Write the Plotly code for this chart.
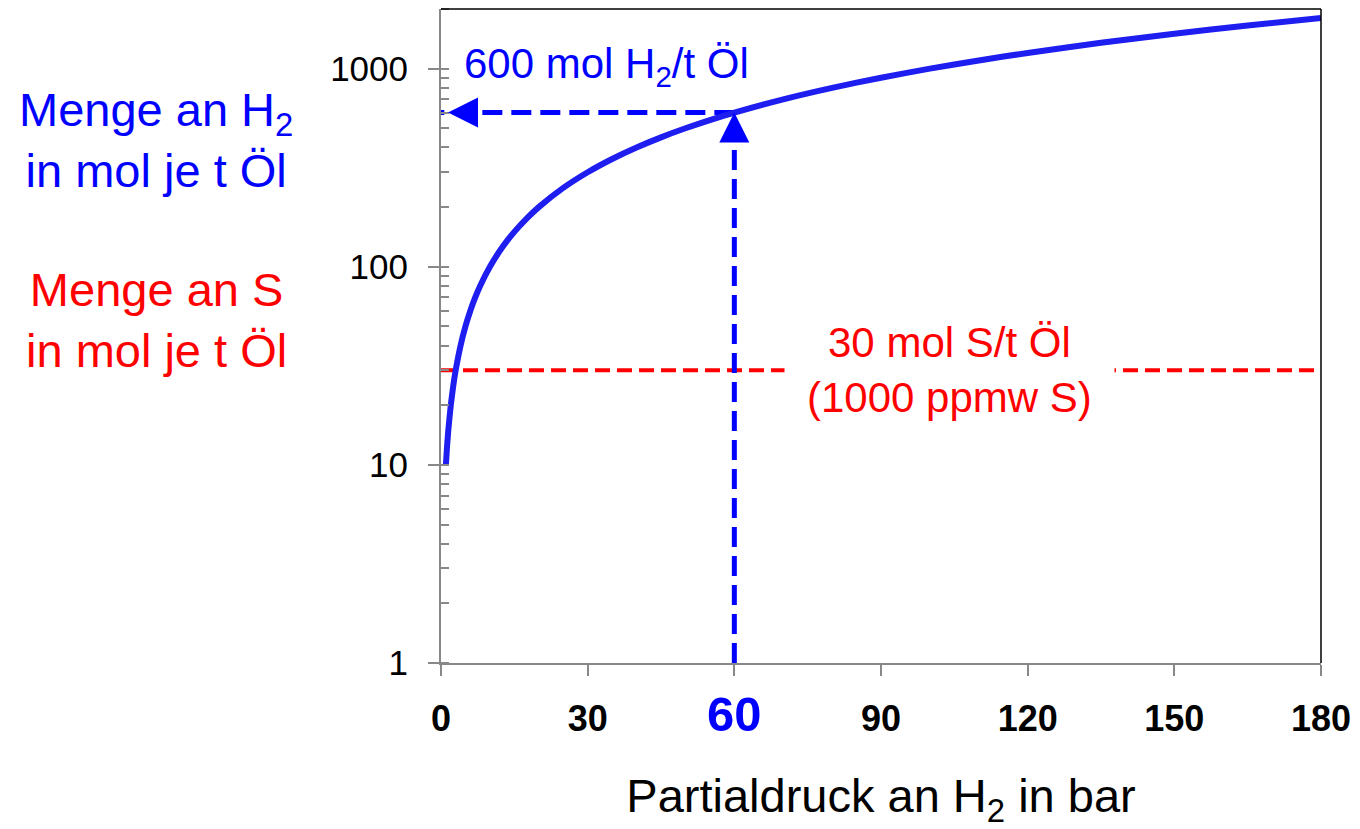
import math
import plotly.graph_objects as go

# H2 partial pressure (bar) and dissolved H2 (mol per t oil)
pressure_bar = [1, 1.25, 1.5, 2, 2.5, 3, 4, 5, 6, 7, 8, 10, 12.5, 15, 17.5, 20,
                25, 30, 35, 40, 45, 50, 55, 60, 70, 80, 90, 100, 110, 120, 135,
                150, 165, 180]
h2_mol_per_t = [10, 12.5, 15, 20, 25, 30, 40, 50, 60, 70, 80, 100, 125, 150,
                175, 200, 250, 300, 350, 400, 450, 500, 550, 600, 700, 800, 900,
                1000, 1100, 1200, 1350, 1500, 1650, 1800]

# Reference levels
s_level = 30          # mol S per t oil (1000 ppmw S)
p_marked = 60         # bar
h2_marked = 600       # mol H2 per t oil

x_ticks = [0, 30, 60, 90, 120, 150, 180]
y_ticks = [1, 10, 100, 1000]

BLUE = "#0000ff"
CURVE_BLUE = "#1e1ef0"
RED = "#ff0000"
GREY = "#888888"
FONT = "Liberation Sans, Arial, sans-serif"

fig = go.Figure()

# sulfur level, dashed red
fig.add_trace(go.Scatter(
    x=[x_ticks[0], x_ticks[-1]], y=[s_level, s_level], mode="lines",
    line=dict(color=RED, width=4, dash="15px,7px"), hoverinfo="skip"))

# guide lines for the marked operating point
fig.add_trace(go.Scatter(
    x=[p_marked, p_marked], y=[y_ticks[0], h2_marked], mode="lines",
    line=dict(color=BLUE, width=5, dash="20px,9px"), hoverinfo="skip"))
fig.add_trace(go.Scatter(
    x=[p_marked, x_ticks[0]], y=[h2_marked, h2_marked], mode="lines",
    line=dict(color=BLUE, width=5, dash="20px,9px"), hoverinfo="skip"))

# H2 solubility curve
fig.add_trace(go.Scatter(
    x=pressure_bar, y=h2_mol_per_t, mode="lines",
    line=dict(color=CURVE_BLUE, width=6, shape="spline", smoothing=0.6),
    hoverinfo="skip"))

tick_text = []
for v in x_ticks:
    if v == p_marked:
        tick_text.append(f"<span style='color:{BLUE};font-size:49px'><b>{v}</b></span>")
    else:
        tick_text.append(f"<b>{v}</b>")

fig.update_xaxes(
    range=[x_ticks[0], x_ticks[-1]], tickvals=x_ticks, ticktext=tick_text,
    ticks="outside", ticklen=11, tickwidth=2, tickcolor=GREY,
    showline=True, linecolor=GREY, linewidth=2, showgrid=False, zeroline=False,
    tickfont=dict(family=FONT, size=36, color="black"), ticklabelstandoff=12,
    title=dict(text="Partialdruck an H<sub>2</sub> in bar",
               font=dict(family=FONT, size=47, color="black"), standoff=42),
)
fig.update_yaxes(
    type="log", range=[0, math.log10(2000)], tickvals=y_ticks,
    ticktext=[str(v) for v in y_ticks],
    ticks="outside", ticklen=11, tickwidth=2, tickcolor=GREY,
    minor=dict(ticks="inside", ticklen=8, tickwidth=2, tickcolor=GREY,
               dtick="D1", showgrid=False),
    showline=True, linecolor=GREY, linewidth=2, showgrid=False, zeroline=False,
    tickfont=dict(family=FONT, size=35, color="black"), ticklabelstandoff=13,
)

annotations = [
    # arrow heads
    dict(x=p_marked, y=math.log10(h2_marked), xref="x", yref="y", ax=0, ay=31,
         showarrow=True, arrowhead=2, arrowsize=1.5, arrowwidth=4,
         arrowcolor=BLUE, text=""),
    dict(x=x_ticks[0], y=math.log10(h2_marked), xref="x", yref="y", ax=31, ay=0,
         standoff=7, showarrow=True, arrowhead=2, arrowsize=1.5, arrowwidth=4,
         arrowcolor=BLUE, text=""),
    # value labels
    dict(x=0.024, y=3.01, xref="paper", yref="y", xanchor="left", yanchor="middle",
         text=f"{h2_marked} mol H<sub>2</sub>/t Öl", showarrow=False,
         font=dict(family=FONT, size=42, color=BLUE)),
    dict(x=104, y=math.log10(s_level), xref="x", yref="y", xanchor="center",
         yanchor="middle", text=f"{s_level} mol S/t Öl<br>(1000 ppmw S)",
         showarrow=False, bgcolor="white", borderpad=22,
         font=dict(family=FONT, size=42, color=RED)),
    # axis captions
    dict(x=-0.3235, y=0.80, xref="paper", yref="paper", xanchor="center",
         yanchor="middle", text="Menge an H<sub>2</sub><br>in mol je t Öl",
         showarrow=False, font=dict(family=FONT, size=47, color=BLUE)),
    dict(x=-0.3235, y=0.524, xref="paper", yref="paper", xanchor="center",
         yanchor="middle", text="Menge an S<br>in mol je t Öl",
         showarrow=False, font=dict(family=FONT, size=47, color=RED)),
]

fig.update_layout(
    width=1360, height=829,
    margin=dict(l=441, r=35, t=9, b=166),
    plot_bgcolor="white", paper_bgcolor="white",
    showlegend=False, font=dict(family=FONT),
    annotations=annotations,
    shapes=[
        dict(type="line", xref="paper", yref="paper", x0=0, x1=1, y0=1, y1=1,
             line=dict(color="black", width=1.5)),
        dict(type="line", xref="paper", yref="paper", x0=1, x1=1, y0=0, y1=1,
             line=dict(color="black", width=1.5)),
    ],
)

fig.write_html("out.html")
